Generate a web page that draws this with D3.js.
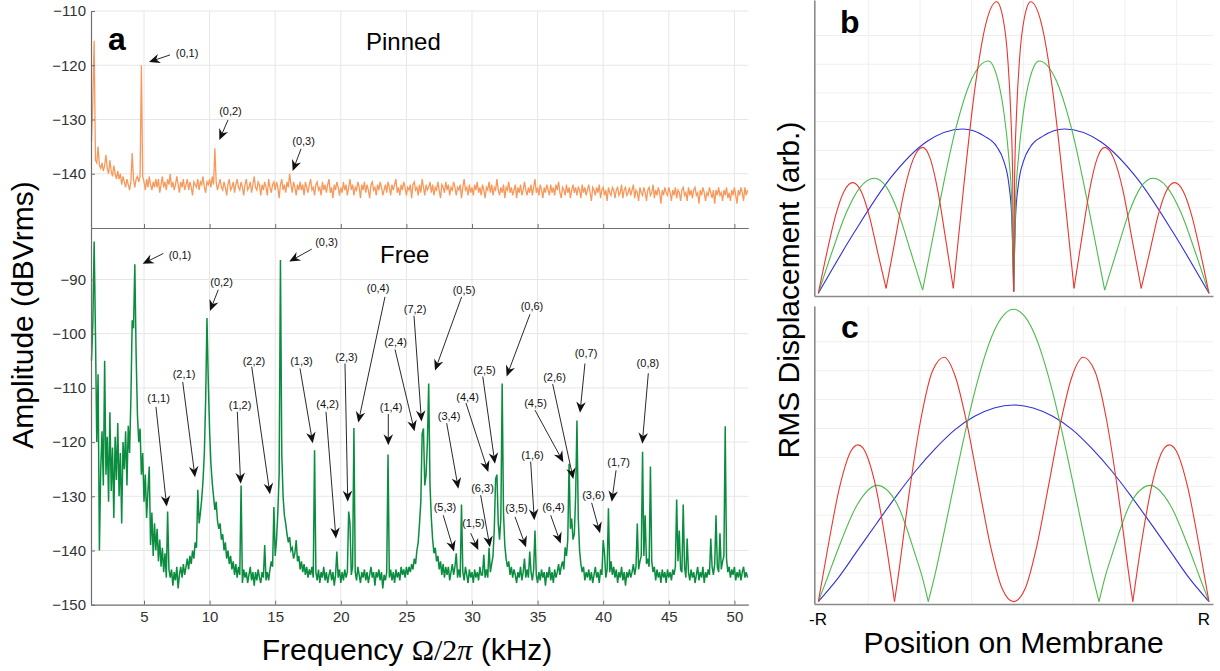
<!DOCTYPE html>
<html>
<head>
<meta charset="utf-8">
<script src="https://cdn.jsdelivr.net/npm/d3@7"></script>
<style>
  body { margin: 0; background: #fff; }
  svg text { font-family: "Liberation Sans", Arial, Helvetica, sans-serif; }
</style>
</head>
<body>
<svg id="chart" width="1220" height="671"></svg>
<script>
// spectra sampled every 0.1 kHz starting at 1.0 kHz (one row per kHz)
const freqStart = 1.0, freqStep = 0.1;

const pinnedDb = [
  -134, -126.5, -115.5, -137.5, -138, -135, -138.5, -139, -138, -139.5,
  -138.5, -136.5, -139, -140, -137.5, -139.5, -140.5, -138.5, -140, -141,
  -139.5, -141, -140, -142, -140.5, -141.5, -142.5, -141, -142, -143,
  -141.5, -136.2, -141, -142.5, -141, -140.5, -141.5, -140.5, -120, -140.5,
  -141.5, -143, -141, -142.5, -140.5, -142, -143, -141.5, -142.5, -141,
  -142.5, -141, -143.5, -142, -140.5, -142.5, -141.5, -143, -141, -142,
  -140, -142.5, -141.5, -143, -142, -140.5, -142, -143.5, -141.5, -142.5,
  -141, -143, -142, -141, -143, -141.5, -142.5, -144, -141.5, -142,
  -142.5, -141, -143, -141.5, -142, -140.5, -142.5, -143.5, -141.5, -142,
  -141, -142.5, -140.5, -142, -135.3, -141.5, -143, -142, -141, -142.5,
  -143, -141.5, -142.5, -144, -142, -141, -143, -142.5, -141.5, -143.5,
  -142, -141, -142.5, -143, -141.5, -142.5, -144, -142, -141, -143,
  -142.5, -141.5, -143.5, -142, -140.5, -142.5, -143, -141.5, -142, -144,
  -142, -143, -141.5, -142.5, -144, -141, -142.5, -143.5, -142, -141.5,
  -143, -141.5, -142.5, -144.5, -142, -141, -143, -142, -143.5, -141.5,
  -142.5, -140, -142, -143.5, -141.5, -142.5, -144, -142, -143, -141.5,
  -143, -142, -144, -141.5, -142.5, -143.5, -142, -141, -143, -142.5,
  -144, -142, -141.5, -143, -142.5, -144, -141.5, -143, -142, -143.5,
  -142, -141, -143.5, -142.5, -144.5, -142, -143, -141.5, -142.5, -144,
  -142.5, -143.5, -141.5, -143, -142, -144, -142.5, -141, -143, -142,
  -144, -142.5, -143, -141.5, -142.5, -144.5, -142, -143, -141.5, -143.5,
  -142, -143, -144.5, -142, -141.5, -143, -142.5, -144, -142, -143,
  -141.5, -142.5, -144, -143, -142, -143.5, -141.5, -142.5, -144, -142,
  -143, -142, -141, -143.5, -142.5, -144, -142, -143, -141.5, -142.5,
  -144, -142.5, -143, -142, -144.5, -142, -141.5, -143, -142.5, -144,
  -142, -143.5, -141, -142.5, -144, -142, -143, -142.5, -141.5, -143.5,
  -142, -144, -142.5, -143, -141.5, -143, -144.5, -142, -142.5, -143.5,
  -141.5, -143, -142, -144, -142.5, -143, -141.5, -142.5, -144, -142.5,
  -143, -142, -144.5, -142.5, -141, -143, -142.5, -144, -142, -143.5,
  -142.5, -144, -142, -143, -141.5, -143.5, -142.5, -144, -142, -143,
  -144.5, -142.5, -143, -141.5, -143.5, -142, -144, -142.5, -143, -141,
  -143, -144, -142.5, -143.5, -142, -144.5, -142.5, -143, -141.5, -143.5,
  -142.5, -144, -143, -142, -144.5, -142.5, -143.5, -142, -144, -143,
  -141.5, -143, -144, -142.5, -143.5, -142, -144, -142.5, -141, -143.5,
  -142.5, -144, -142, -143, -144.5, -142.5, -143.5, -142, -143, -144,
  -142, -143.5, -142.5, -144, -142, -143, -141.5, -143.5, -144.5, -142.5,
  -143, -144, -142, -143.5, -142.5, -144.5, -143, -142, -143.5, -142.5,
  -144, -142.5, -143, -144.5, -142, -143.5, -142.5, -144, -143, -142,
  -143.5, -145, -142.5, -143, -144, -142.5, -143.5, -142, -144.5, -143,
  -142.5, -144, -143, -145, -142.5, -143.5, -144, -142.5, -143, -144.5,
  -143, -142.5, -144, -143.5, -142, -144.5, -143, -142.5, -144, -143.5,
  -142.5, -144, -143, -142, -144.5, -143, -143.5, -145, -142.5, -143.5,
  -144, -142.5, -143.5, -145, -143, -142.5, -144, -143.5, -142, -144.5,
  -143, -144, -142.5, -143.5, -145.5, -143, -144, -142.5, -143.5, -144,
  -142.5, -143.5, -145, -143, -144, -142.5, -144.5, -143, -143.5, -145,
  -143, -142.5, -144, -143.5, -145, -142.5, -144, -143, -144.5, -143,
  -142.5, -144, -143.5, -145.5, -143, -144, -142.5, -143.5, -145, -143.5,
  -144, -142.5, -143.5, -144.5, -143, -145.5, -143, -144, -142.5, -144,
  -143.5, -145, -143, -144, -142.5, -144.5, -143.5, -145, -143, -144,
  -142.5, -144, -145.5, -143, -144, -142.5, -143.5, -145, -142.5, -144, -143
];

const freeDb = [
  -105, -98, -83, -100, -120, -107.5, -140, -125, -118, -128,
  -105, -126, -119, -131, -114.5, -129, -121, -134, -119, -127,
  -116.5, -130, -122, -135, -120, -125, -118, -128, -117, -122,
  -112, -97.5, -99, -87.2, -104, -115, -120, -117.5, -126, -122,
  -131, -126, -134, -129, -124.5, -139, -133, -141, -135, -140,
  -136, -142, -138, -143, -139.5, -144, -140.5, -145, -132.8, -143.5,
  -145, -143.5, -146.5, -144, -145.5, -143, -147, -144.5, -143, -145,
  -142.5, -144.5, -143, -141.5, -143.5, -141, -142.5, -140, -141.5, -138.5,
  -139.5, -128.8, -135, -133, -130.5, -127, -122, -112, -97.1, -109,
  -118, -124, -127.5, -130, -132.5, -131, -134.5, -136, -135, -138,
  -137, -140, -138.5, -141.5, -140, -142.5, -141, -143.5, -142, -144.5,
  -142.5, -145, -143, -144.5, -128, -146, -143.5, -145, -144, -146,
  -144.5, -143, -145.5, -144, -146.5, -144, -145.5, -143.5, -145, -146,
  -144, -145, -139, -145.5, -144, -145.5, -143.5, -142, -143, -132,
  -141, -138, -133, -126, -86.4, -122, -130, -133.5, -135, -137,
  -138.5, -137.5, -140, -139.5, -141.5, -140.5, -138.1, -142, -141, -143.5,
  -142, -144, -142.5, -144.5, -143, -145, -143.5, -144.5, -143, -145,
  -121.5, -144, -145.5, -143.5, -146, -144, -145, -143, -145.5, -144,
  -146, -144.5, -143.5, -145.5, -144, -146.5, -144.5, -140.2, -145, -143.5,
  -146, -144, -145.5, -143.5, -145, -144, -132.8, -135, -144.5, -143,
  -117.4, -144, -145.5, -143, -144.5, -146, -144, -145, -143.5, -145.5,
  -144, -146, -144.5, -143, -145, -144, -146.5, -144, -145, -143.5,
  -145.5, -144, -147, -144.5, -145.5, -144, -122.3, -145, -143.5, -145.5,
  -144, -146, -143.5, -145, -144, -145.5, -143, -144.5, -143.5, -145,
  -143, -144.5, -143, -144, -142.5, -143.5, -141.5, -142.5, -140, -138.5,
  -135, -131, -118.5, -117.5, -128, -126, -120, -109.2, -128, -134,
  -138, -140.5, -139.5, -142, -141, -143.5, -142, -144.5, -142.5, -145,
  -143, -144.5, -143, -145.5, -144, -142.5, -144.5, -143, -140.5, -145,
  -143.5, -145, -131.5, -144, -145.5, -143, -144.5, -146, -143.5, -145,
  -144, -146, -143.5, -145, -144, -145.5, -143, -144.5, -144.5, -140.8,
  -145, -143.5, -145, -139.5, -144, -142.5, -141, -136, -126.8, -126,
  -135, -138, -134, -109.2, -133, -139, -141.5, -143, -142, -144.5,
  -143, -145, -143.5, -144.5, -146, -144, -145, -143, -145.5, -144,
  -141.5, -145, -143.5, -145, -140.2, -144, -145.5, -143.5, -136.3, -144.5,
  -146, -144, -145.5, -143.5, -145, -144, -146.5, -144, -145, -143,
  -145.5, -144, -146, -143.5, -145, -144, -142.5, -144.5, -143, -142,
  -143.5, -139.4, -141, -138, -124, -136, -134.1, -138, -137, -130,
  -116, -134, -140, -142.5, -144, -143, -145.5, -144, -145, -143.5,
  -145.5, -144, -146, -144.5, -143, -145, -144, -146, -143.5, -144.5,
  -138.1, -140.5, -145, -143.5, -132.2, -144, -142, -144.5, -143, -145,
  -143.5, -146, -144, -145, -143, -145.5, -144, -146.5, -144, -145,
  -143.5, -145, -144, -142.5, -144.5, -143, -135, -143.5, -142, -141,
  -121.8, -141, -133.5, -142.5, -141.5, -143, -124.5, -142, -144, -143,
  -145.5, -143.5, -145, -144, -146, -143.5, -145, -144, -146, -143.5,
  -145, -144, -145.5, -143.5, -144.5, -143, -130.6, -142, -136.3, -143.5,
  -144, -131.5, -143, -145, -137.8, -144, -145.5, -143.5, -145, -144,
  -146, -144.5, -143, -145.5, -144, -145, -143, -146, -144, -145,
  -143.5, -144.5, -137.8, -143, -144.5, -142.5, -133.5, -143, -144, -136.8,
  -143.5, -142, -141, -117.1, -141.5, -144, -143, -145, -143.5, -144.5,
  -143, -145.5, -144, -145, -143.5, -145.5, -144, -143, -145, -144, -145
];

const xTicks = [5, 10, 15, 20, 25, 30, 35, 40, 45, 50];
const pinnedTicks = [-140, -130, -120, -110];
const freeTicks = [-150, -140, -130, -120, -110, -100, -90];

// mode annotations: label, text (kHz, dB), arrow tail, arrow tip
const pinnedNotes = [
  ['(0,1)', 8.28, -117.7, 6.98, -118.1, 5.38, -119.4],
  ['(0,2)', 11.59, -128.4, 11.40, -130.1, 10.74, -133.8],
  ['(0,3)', 17.16, -134.0, 16.97, -135.4, 16.33, -139.5]
];
const freeNotes = [
  ['(0,1)', 7.74, -85.5, 6.47, -85.2, 4.90, -87.1],
  ['(0,3)', 18.91, -83.1, 17.78, -84.4, 16.07, -86.7],
  ['(0,2)', 10.91, -90.5, 10.66, -91.9, 10.03, -95.8],
  ['(0,4)', 22.84, -91.6, 23.37, -93.2, 21.33, -116.4],
  ['(7,2)', 25.66, -95.4, 25.58, -96.7, 26.15, -116.2],
  ['(2,4)', 24.17, -101.5, 24.13, -102.9, 25.62, -118.0],
  ['(0,5)', 29.39, -91.9, 29.21, -93.2, 27.18, -106.8],
  ['(0,6)', 34.57, -95.0, 34.42, -96.4, 32.64, -107.9],
  ['(2,5)', 30.95, -106.7, 30.82, -107.9, 31.75, -124.0],
  ['(4,4)', 29.66, -111.7, 29.54, -112.8, 31.24, -125.5],
  ['(3,4)', 28.25, -115.2, 28.07, -116.5, 28.96, -128.6],
  ['(2,6)', 36.29, -108.0, 36.15, -109.3, 37.72, -126.8],
  ['(4,5)', 34.84, -112.8, 34.80, -114.1, 36.96, -123.7],
  ['(0,7)', 38.69, -103.6, 38.61, -105.5, 38.23, -114.6],
  ['(0,8)', 43.41, -105.4, 43.44, -107.3, 42.98, -120.3],
  ['(1,1)', 6.11, -111.9, 5.91, -113.5, 6.73, -131.9],
  ['(2,1)', 8.05, -107.4, 7.95, -108.9, 8.89, -126.5],
  ['(1,2)', 12.32, -113.2, 12.11, -114.4, 12.37, -127.7],
  ['(2,2)', 13.38, -105.0, 13.21, -106.1, 14.60, -129.6],
  ['(1,3)', 17.00, -105.0, 16.89, -106.4, 17.86, -120.2],
  ['(2,3)', 20.43, -104.3, 20.32, -105.5, 20.53, -131.0],
  ['(4,2)', 18.99, -113.0, 18.87, -114.4, 19.63, -137.8],
  ['(1,4)', 23.83, -113.5, 23.62, -114.8, 23.62, -120.6],
  ['(5,3)', 27.94, -132.0, 27.81, -133.5, 28.63, -140.2],
  ['(1,5)', 30.11, -134.9, 29.90, -136.8, 30.48, -139.9],
  ['(6,3)', 30.80, -128.5, 30.66, -129.8, 31.37, -139.4],
  ['(3,5)', 33.39, -132.2, 33.28, -133.8, 34.12, -139.4],
  ['(1,6)', 34.61, -122.4, 34.47, -123.6, 34.75, -134.4],
  ['(6,4)', 36.21, -132.0, 36.00, -133.5, 36.76, -138.7],
  ['(3,6)', 39.26, -129.8, 39.12, -131.2, 39.76, -136.8],
  ['(1,7)', 41.17, -123.7, 40.98, -125.2, 40.65, -131.0]
];

// radial mode profiles across the membrane diameter (-R..R), one array per lobe
const bBlue = [
  [[-1, 0.9], [-0.815, 21.6], [-0.63, 39.9], [-0.446, 52.1], [-0.261, 56.4], [-0.15, 54], [-0.087, 50.5], [-0.05, 45.5], [-0.025, 38], [-0.01, 27], [0, 1.5]],
  [[0, 1.5], [0.01, 27], [0.025, 38], [0.05, 45.5], [0.087, 50.5], [0.15, 54], [0.261, 56.4], [0.446, 52.1], [0.63, 39.9], [0.815, 21.6], [1, 0.9]]
];
const bGreen = [
  [[-1, 0.9], [-0.928, 15.2], [-0.857, 28.1], [-0.785, 36.8], [-0.713, 39.8], [-0.651, 36.8], [-0.59, 28.1], [-0.528, 15.2], [-0.466, 2]],
  [[-0.466, 2], [-0.382, 30.4], [-0.298, 56.1], [-0.214, 73.4], [-0.13, 79.4], [-0.085, 74], [-0.05, 62], [-0.025, 47], [-0.01, 32], [0, 1.5]],
  [[0, 1.5], [0.01, 32], [0.025, 47], [0.05, 62], [0.085, 74], [0.13, 79.4], [0.214, 73.4], [0.298, 56.1], [0.382, 30.4], [0.466, 2]],
  [[0.466, 2], [0.528, 15.2], [0.59, 28.1], [0.651, 36.8], [0.713, 39.8], [0.785, 36.8], [0.857, 28.1], [0.928, 15.2], [1, 0.9]]
];
const bRed = [
  [[-1, 0.9], [-0.956, 14.7], [-0.912, 27.1], [-0.868, 35.4], [-0.824, 38.3], [-0.781, 35.4], [-0.739, 27.1], [-0.696, 14.7], [-0.653, 2.6]],
  [[-0.653, 2.6], [-0.606, 19.2], [-0.56, 35.5], [-0.513, 46.4], [-0.466, 50.2], [-0.427, 46.4], [-0.388, 35.5], [-0.348, 19.2], [-0.309, 2.6]],
  [[-0.309, 2.6], [-0.254, 38], [-0.198, 70.3], [-0.143, 91.8], [-0.087, 99.4], [-0.055, 94], [-0.03, 80], [-0.015, 62], [-0.005, 40], [0, 1.5]],
  [[0, 1.5], [0.005, 40], [0.015, 62], [0.03, 80], [0.055, 94], [0.087, 99.4], [0.143, 91.8], [0.198, 70.3], [0.254, 38], [0.309, 2.6]],
  [[0.309, 2.6], [0.348, 19.2], [0.388, 35.5], [0.427, 46.4], [0.466, 50.2], [0.513, 46.4], [0.56, 35.5], [0.606, 19.2], [0.653, 2.6]],
  [[0.653, 2.6], [0.696, 14.7], [0.739, 27.1], [0.781, 35.4], [0.824, 38.3], [0.868, 35.4], [0.912, 27.1], [0.956, 14.7], [1, 0.9]]
];
const cBlue = [
  [[-1, 0.8], [-0.9, 8.6], [-0.8, 17.9], [-0.7, 27.2], [-0.6, 36.3], [-0.5, 44.8], [-0.4, 52.2], [-0.3, 58.5], [-0.2, 63], [-0.1, 65.8], [0, 66.8],
   [0.1, 65.8], [0.2, 63], [0.3, 58.5], [0.4, 52.2], [0.5, 44.8], [0.6, 36.3], [0.7, 27.2], [0.8, 17.9], [0.9, 8.6], [1, 0.8]]
];
const cGreen = [
  [[-1, 0.8], [-0.95, 9.4], [-0.9, 18.2], [-0.8, 33.4], [-0.7, 39.8], [-0.6, 34], [-0.5, 15.8], [-0.47, 9.5], [-0.437, 0.8]],
  [[-0.437, 0.8], [-0.4, 10.6], [-0.35, 26], [-0.3, 41.8], [-0.25, 57.1], [-0.2, 71], [-0.15, 82.7], [-0.1, 91.6], [-0.05, 97], [0, 98.9],
   [0.05, 97], [0.1, 91.6], [0.15, 82.7], [0.2, 71], [0.25, 57.1], [0.3, 41.8], [0.35, 26], [0.4, 10.6], [0.437, 0.8]],
  [[0.437, 0.8], [0.47, 9.5], [0.5, 15.8], [0.6, 34], [0.7, 39.8], [0.8, 33.4], [0.9, 18.2], [0.95, 9.4], [1, 0.8]]
];
const cRed = [
  [[-1, 0.8], [-0.95, 19.3], [-0.891, 39.2], [-0.832, 51.4], [-0.797, 53.4], [-0.772, 52.4], [-0.713, 41.4], [-0.653, 20], [-0.61, 0.8]],
  [[-0.61, 0.8], [-0.594, 7.9], [-0.535, 37.1], [-0.475, 62], [-0.416, 78.1], [-0.356, 82.8], [-0.297, 76], [-0.238, 60.1], [-0.178, 39.5], [-0.119, 19.6], [-0.059, 5.2], [0, 0.8],
   [0.059, 5.2], [0.119, 19.6], [0.178, 39.5], [0.238, 60.1], [0.297, 76], [0.356, 82.8], [0.416, 78.1], [0.475, 62], [0.535, 37.1], [0.594, 7.9], [0.61, 0.8]],
  [[0.61, 0.8], [0.653, 20], [0.713, 41.4], [0.772, 52.4], [0.797, 53.4], [0.832, 51.4], [0.891, 39.2], [0.95, 19.3], [1, 0.8]]
];
const profileGridX = [-0.744, -0.479, -0.215, 0.049, 0.305, 0.57, 0.835];
const profileGridY = [10.4, 20.1, 29.8, 39.5, 49.2, 58.9, 68.6, 78.3, 88];

const svg = d3.select('#chart');
const FONT = '"Liberation Sans", Arial, Helvetica, sans-serif';

// ---- panel a ----
const x = d3.scaleLinear().domain([0.96, 51.06]).range([91, 748.3]);
const yTop = d3.scaleLinear().domain([-150, -110]).range([228, 11]);
const yBot = d3.scaleLinear().domain([-150, -80.5]).range([604.7, 228]);

function drawGrid(yScale, yVals) {
  const g = svg.append('g').attr('stroke', '#e6e6e6').attr('stroke-width', 1);
  g.selectAll('line.v').data(xTicks).enter().append('line')
    .attr('x1', d => x(d)).attr('x2', d => x(d))
    .attr('y1', yScale.range()[0]).attr('y2', yScale.range()[1]);
  g.selectAll('line.h').data(yVals).enter().append('line')
    .attr('x1', x.range()[0]).attr('x2', x.range()[1])
    .attr('y1', d => yScale(d)).attr('y2', d => yScale(d));
}
drawGrid(yTop, [-140, -130, -120, -110]);
drawGrid(yBot, [-140, -130, -120, -110, -100, -90]);

const toPts = arr => arr.map((v, i) => [freqStart + i * freqStep, v]);

svg.append('path').datum(toPts(pinnedDb))
  .attr('fill', 'none').attr('stroke', '#f8995b').attr('stroke-width', 1.3)
  .attr('d', d3.line().x(d => x(d[0])).y(d => yTop(d[1])));

svg.append('path').datum(toPts(freeDb))
  .attr('fill', 'none').attr('stroke', '#0b8d40').attr('stroke-width', 1.5)
  .attr('d', d3.line().x(d => x(d[0])).y(d => yBot(d[1])));

function drawAxes(yScale, yVals, showX) {
  const ax = svg.append('g').attr('transform', `translate(0,${yScale.range()[0]})`)
    .call(d3.axisBottom(x).tickValues(xTicks).tickSize(-4).tickSizeOuter(0).tickPadding(7)
      .tickFormat(showX ? d3.format('d') : ''));
  const ay = svg.append('g').attr('transform', `translate(${x.range()[0]},0)`)
    .call(d3.axisLeft(yScale).tickValues(yVals).tickSize(-4).tickSizeOuter(0).tickPadding(5));
  [ax, ay].forEach(a => {
    a.attr('font-family', FONT).attr('font-size', 15);
    a.select('.domain').attr('stroke', '#6e6e6e').attr('stroke-width', 1.2);
    a.selectAll('.tick line').attr('stroke', '#6e6e6e');
    a.selectAll('.tick text').attr('fill', '#333');
  });
}
drawAxes(yTop, pinnedTicks, false);
drawAxes(yBot, freeTicks, true);

function drawNotes(notes, yScale) {
  const g = svg.append('g');
  notes.forEach(([label, tf, td, sf, sd, pf, pd]) => {
    const sx = x(sf), sy = yScale(sd), px = x(pf), py = yScale(pd);
    const ang = Math.atan2(py - sy, px - sx);
    g.append('line')
      .attr('x1', sx).attr('y1', sy)
      .attr('x2', px - Math.cos(ang) * 7).attr('y2', py - Math.sin(ang) * 7)
      .attr('stroke', '#111').attr('stroke-width', 0.9);
    g.append('path')
      .attr('d', 'M0,0L-11,-4.8L-7.5,0L-11,4.8Z')
      .attr('fill', '#111')
      .attr('transform', `translate(${px},${py}) rotate(${ang * 180 / Math.PI})`);
    g.append('text')
      .attr('x', x(tf)).attr('y', yScale(td)).attr('dy', '0.35em')
      .attr('text-anchor', 'middle').attr('font-size', 11).attr('fill', '#111')
      .text(label);
  });
}
drawNotes(pinnedNotes, yTop);
drawNotes(freeNotes, yBot);

svg.append('text').attr('x', 108).attr('y', 50).attr('font-size', 32).attr('font-weight', 'bold').text('a');
svg.append('text').attr('x', 366).attr('y', 50).attr('font-size', 24).text('Pinned');
svg.append('text').attr('x', 380).attr('y', 263).attr('font-size', 24).text('Free');

const xl = svg.append('text').attr('x', 407).attr('y', 660).attr('text-anchor', 'middle').attr('font-size', 30);
xl.append('tspan').text('Frequency ');
xl.append('tspan').attr('font-family', '"Liberation Serif", "DejaVu Serif", serif').text('Ω/2');
xl.append('tspan').attr('font-family', '"Liberation Serif", "DejaVu Serif", serif').attr('font-style', 'italic').text('π');
xl.append('tspan').text(' (kHz)');

svg.append('text').attr('transform', 'translate(33,315) rotate(-90)')
  .attr('text-anchor', 'middle').attr('font-size', 30).text('Amplitude (dBVrms)');

// ---- panels b and c ----
const bx = d3.scaleLinear().domain([-1.0205, 1.0205]).range([814.3, 1213]);
const by = d3.scaleLinear().domain([0, 100]).range([296, 0]);
const cy = d3.scaleLinear().domain([0, 100]).range([604, 306]);

function drawProfilePanel(yScale, series) {
  const g = svg.append('g').attr('stroke', '#efefef').attr('stroke-width', 1);
  g.selectAll('line.v').data(profileGridX).enter().append('line')
    .attr('x1', d => bx(d)).attr('x2', d => bx(d))
    .attr('y1', yScale.range()[0]).attr('y2', yScale.range()[1]);
  g.selectAll('line.h').data(profileGridY).enter().append('line')
    .attr('x1', bx.range()[0]).attr('x2', bx.range()[1])
    .attr('y1', d => yScale(d)).attr('y2', d => yScale(d));

  const line = d3.line().x(d => bx(d[0])).y(d => yScale(d[1])).curve(d3.curveMonotoneX);
  series.forEach(([arches, color]) => {
    svg.append('g').selectAll('path').data(arches).enter().append('path')
      .attr('fill', 'none').attr('stroke', color).attr('stroke-width', 1.1)
      .attr('d', line);
  });

  const ax = svg.append('g').attr('transform', `translate(0,${yScale.range()[0]})`)
    .call(d3.axisBottom(bx).tickValues([]).tickSizeOuter(0));
  const ay = svg.append('g').attr('transform', `translate(${bx.range()[0]},0)`)
    .call(d3.axisLeft(yScale).tickValues([]).tickSizeOuter(0));
  [ax, ay].forEach(a => a.select('.domain').attr('stroke', '#8a8a8a').attr('stroke-width', 1.6));
}
drawProfilePanel(by, [[bBlue, '#3030d8'], [bGreen, '#4cbb4c'], [bRed, '#e8372f']]);
drawProfilePanel(cy, [[cBlue, '#3030d8'], [cGreen, '#4cbb4c'], [cRed, '#e8372f']]);

svg.append('text').attr('x', 840).attr('y', 33).attr('font-size', 32).attr('font-weight', 'bold').text('b');
svg.append('text').attr('x', 841).attr('y', 338).attr('font-size', 32).attr('font-weight', 'bold').text('c');
svg.append('text').attr('x', 809).attr('y', 625).attr('font-size', 17).text('-R');
svg.append('text').attr('x', 1210).attr('y', 625).attr('font-size', 17).attr('text-anchor', 'end').text('R');
svg.append('text').attr('x', 1013.5).attr('y', 653).attr('font-size', 30).attr('text-anchor', 'middle').text('Position on Membrane');
svg.append('text').attr('transform', 'translate(799,290) rotate(-90)')
  .attr('text-anchor', 'middle').attr('font-size', 30).text('RMS Displacement (arb.)');
</script>
</body>
</html>
